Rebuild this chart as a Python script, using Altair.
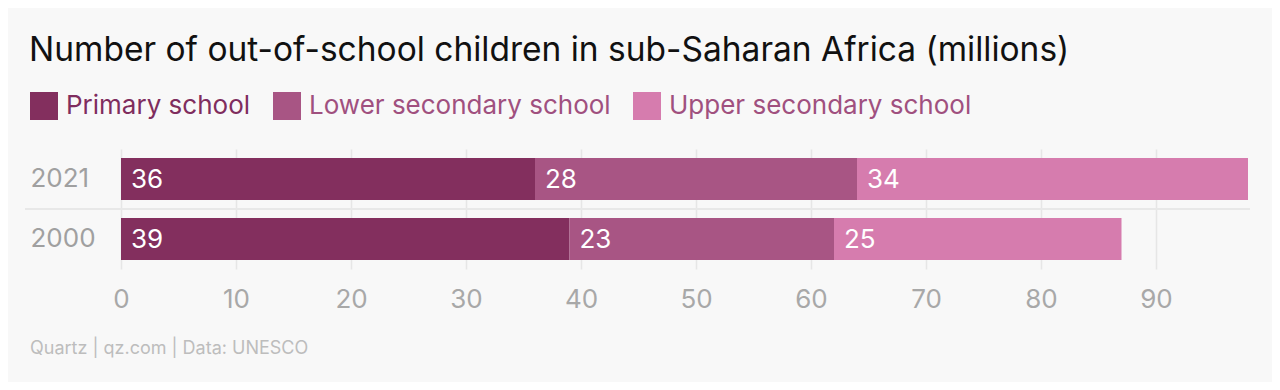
import altair as alt
import pandas as pd

years = ["2021", "2000"]
levels = ["Primary school", "Lower secondary school", "Upper secondary school"]
colors = ["#832f5e", "#a85584", "#d67cae"]
values_2021 = [36, 28, 34]
values_2000 = [39, 23, 25]
x_ticks = [0, 10, 20, 30, 40, 50, 60, 70, 80, 90]
title_text = "Number of out-of-school children in sub-Saharan Africa (millions)"
footer_text = "Quartz | qz.com | Data: UNESCO"

rows = []
for yr, vals in zip(years, [values_2021, values_2000]):
    for i, (lv, v) in enumerate(zip(levels, vals)):
        rows.append({"year": yr, "level": lv, "order": i, "value": v})
df = pd.DataFrame(rows)

FONT = "Inter"
W, H = 1127, 120

base = alt.Chart(df).transform_stack(
    stack="value", as_=["x0", "x1"], groupby=["year"], sort=[alt.SortField("order")]
)

x_enc = alt.X("x0:Q", scale=alt.Scale(domain=[0, 98], nice=False, zero=True),
              axis=alt.Axis(values=x_ticks, title=None, domain=False, ticks=False,
                            grid=True, gridColor="#e6e6e6", gridWidth=1.5,
                            labelFontSize=26, labelColor="#a8a8a8", labelFont=FONT,
                            labelFlush=False, labelPadding=17))
y_enc = alt.Y("year:N", sort=years,
              scale=alt.Scale(paddingInner=0.3, paddingOuter=0.15),
              axis=alt.Axis(title=None, domain=False, ticks=False, grid=False,
                            labelFontSize=26, labelColor="#a0a0a0", labelFont=FONT,
                            labelAlign="left", labelPadding=91))

legend_color_expr = ("datum.value == 'Primary school' ? '#7f2d5e' : '#a0507f'")

bars = base.mark_bar(size=42).encode(
    x=x_enc,
    x2="x1:Q",
    y=y_enc,
    color=alt.Color("level:N", sort=levels,
                    scale=alt.Scale(domain=levels, range=colors),
                    legend=alt.Legend(title=None, orient="none", legendX=-91, legendY=-57,
                                      direction="horizontal", symbolType="square",
                                      symbolSize=784, symbolStrokeWidth=0, symbolOpacity=1,
                                      labelFontSize=26, labelFont=FONT, labelOffset=8,
                                      labelLimit=600, columnPadding=22,
                                      labelColor=alt.ExprRef(legend_color_expr))),
)

labels = base.mark_text(align="left", baseline="middle", dx=10, dy=1, color="white",
                        fontSize=26, font=FONT).encode(
    x="x0:Q",
    y=alt.Y("year:N", sort=years),
    text="value:Q",
)

sep = alt.Chart(df).mark_rule(color="#e8e8e8", strokeWidth=2).encode(
    x=alt.value(-96), x2=alt.value(W + 2), y=alt.value(H / 2)
)

footer = alt.Chart(pd.DataFrame({"t": [footer_text]})).mark_text(
    align="left", baseline="middle", fontSize=18, color="#bdbdbd", font=FONT
).encode(x=alt.value(-91), y=alt.value(200), text="t:N")

chart = alt.layer(sep, bars, labels, footer).properties(
    width=W, height=H,
    title=alt.TitleParams(title_text, anchor="start", fontSize=33.5, font=FONT,
                          fontWeight="normal", color="#111111", dx=5, offset=24),
    background="#f8f8f8",
    autosize=alt.AutoSizeParams(type="none"),
    padding={"left": 113, "top": 141, "right": 24, "bottom": 113},
).configure_view(stroke=None)

chart.save("out.html", embed_options={"renderer": "svg", "actions": False})
